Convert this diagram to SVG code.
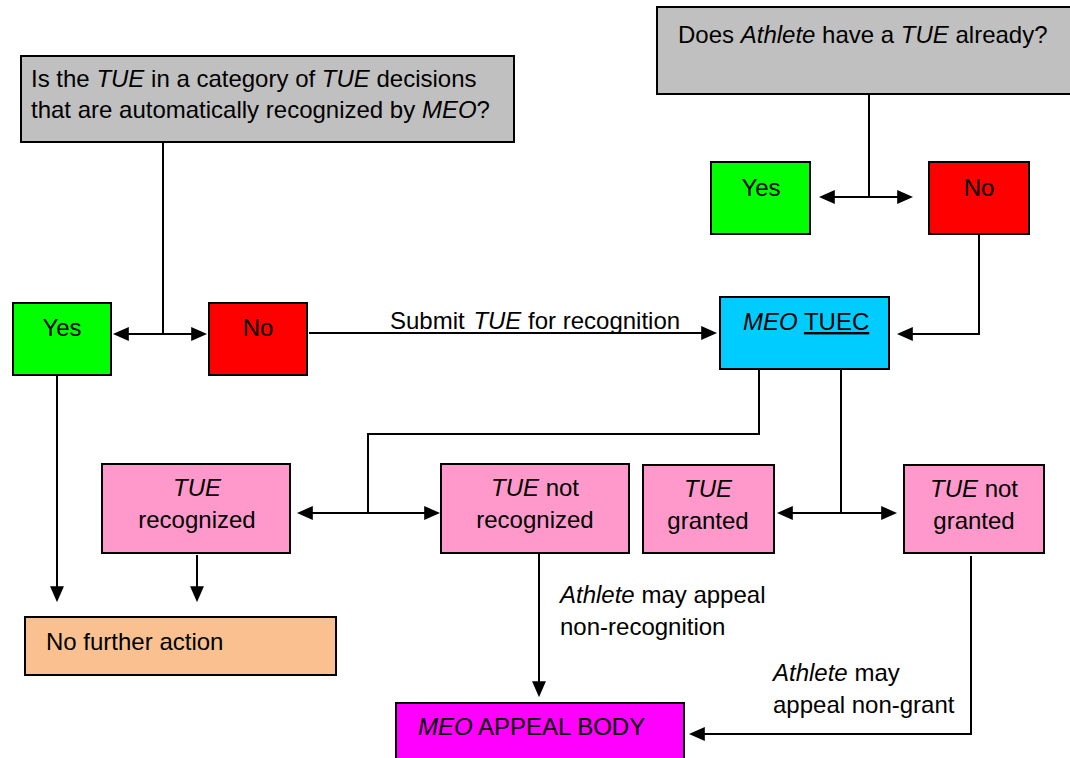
<svg xmlns="http://www.w3.org/2000/svg" width="1070" height="758" viewBox="0 0 1070 758">
<style>
text{font-family:"Liberation Sans",Arial,sans-serif;font-size:24px;fill:#000}
.i{font-style:italic}
.c{text-anchor:middle}
.box{stroke:#000;stroke-width:2}
.gray{fill:#C0C0C0}
.green{fill:#00FF00}
.red{fill:#FF0000}
.cyan{fill:#00CCFF}
.pink{fill:#FF99CC}
.peach{fill:#FAC090}
.mag{fill:#FF00FF}
.conn path{fill:none;stroke:#000;stroke-width:2}
.a{marker-end:url(#ah)}
.aa{marker-start:url(#ah);marker-end:url(#ah)}
</style>
<defs>
<marker id="ah" markerUnits="userSpaceOnUse" markerWidth="16" markerHeight="14" refX="12" refY="6.5" orient="auto-start-reverse" viewBox="0 0 15 13">
<path d="M0,0 L15,6.5 L0,13 z" fill="#000"/>
</marker>
</defs>
<rect width="1070" height="758" fill="#fff"/>

<g id="q1">
<rect class="box gray" x="21" y="56" width="493" height="86"/>
<text x="31" y="87">Is the <tspan class="i">TUE</tspan> in a category of <tspan class="i">TUE</tspan> decisions</text>
<text x="31" y="118">that are automatically recognized by <tspan class="i">MEO</tspan>?</text>
</g>
<g id="q2">
<rect class="box gray" x="657" y="7" width="420" height="87"/>
<text x="678" y="43">Does <tspan class="i">Athlete</tspan> have a <tspan class="i">TUE</tspan> already?</text>
</g>
<g id="yes2">
<rect class="box green" x="711" y="162" width="99" height="72"/>
<text class="c" x="761" y="196">Yes</text>
</g>
<g id="no2">
<rect class="box red" x="929" y="162" width="100" height="72"/>
<text class="c" x="979" y="196">No</text>
</g>
<g id="yes1">
<rect class="box green" x="13" y="303" width="98" height="72"/>
<text class="c" x="62" y="336">Yes</text>
</g>
<g id="no1">
<rect class="box red" x="209" y="303" width="98" height="72"/>
<text class="c" x="258" y="336">No</text>
</g>
<g id="tuec">
<rect class="box cyan" x="720" y="297" width="169" height="72"/>
<text x="743" y="330"><tspan class="i">MEO</tspan> <tspan text-decoration="underline">TUEC</tspan></text>
</g>
<g id="recog">
<rect class="box pink" x="102" y="464" width="188" height="89"/>
<text class="c i" x="197" y="496">TUE</text>
<text class="c" x="197" y="528">recognized</text>
</g>
<g id="notrecog">
<rect class="box pink" x="441" y="464" width="188" height="89"/>
<text class="c" x="535" y="496"><tspan class="i">TUE</tspan> not</text>
<text class="c" x="535" y="528">recognized</text>
</g>
<g id="granted">
<rect class="box pink" x="643" y="465" width="131" height="88"/>
<text class="c i" x="708" y="497">TUE</text>
<text class="c" x="708" y="529">granted</text>
</g>
<g id="notgranted">
<rect class="box pink" x="904" y="465" width="140" height="88"/>
<text class="c" x="974" y="497"><tspan class="i">TUE</tspan> not</text>
<text class="c" x="974" y="529">granted</text>
</g>
<g id="nofurther">
<rect class="box peach" x="25" y="617" width="311" height="58"/>
<text x="46" y="650">No further action</text>
</g>
<g id="appeal">
<rect class="box mag" x="396" y="703" width="288" height="70"/>
<text x="418" y="735"><tspan class="i">MEO</tspan> APPEAL BODY</text>
</g>

<g id="connectors" class="conn">
<path d="M163,142 V334"/>
<path class="aa" d="M116,334 H204"/>
<path class="a" d="M309,333 H714"/>
<path d="M869,94 V197"/>
<path class="aa" d="M822,197 H910"/>
<path class="a" d="M979,234 V334 H900"/>
<path d="M759,369 V434 H368 V513"/>
<path class="aa" d="M300,513 H437"/>
<path d="M841,369 V513"/>
<path class="aa" d="M780,513 H894"/>
<path class="a" d="M57,376 V599"/>
<path class="a" d="M197,555 V599"/>
<path class="a" d="M539,554 V694"/>
<path class="a" d="M971,556 V734 H692"/>
</g>

<g id="labels">
<text x="390" y="329">Submit <tspan class="i" dx="2">TUE</tspan> for recognition</text>
<text x="560" y="603"><tspan class="i">Athlete</tspan> may appeal</text>
<text x="560" y="635">non-recognition</text>
<text x="773" y="681"><tspan class="i">Athlete</tspan> may</text>
<text x="773" y="713">appeal non-grant</text>
</g>
</svg>
